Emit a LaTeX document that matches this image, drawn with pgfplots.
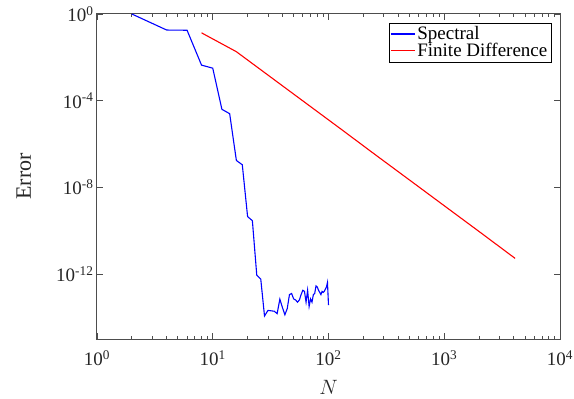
\documentclass[border=0pt]{standalone}
\usepackage{fontspec}
\setmainfont{Liberation Serif}
\usepackage{pgfplots}
\pgfplotsset{compat=1.18}
\definecolor{axgray}{RGB}{77,77,77}
\definecolor{txtgray}{RGB}{38,38,38}
\begin{document}
\begin{tikzpicture}
\useasboundingbox (-97pt,-60pt) rectangle (477pt,339pt);
\begin{axis}[
  scale only axis, width=463pt, height=325pt,
  xmode=log, ymode=log,
  xmin=1, xmax=10000, ymin=1e-15, ymax=1,
  xtick={1,10,100,1000,10000},
  xticklabels={10\textsuperscript{0},10\textsuperscript{1},10\textsuperscript{2},10\textsuperscript{3},10\textsuperscript{4}},
  ytick={1e-12,1e-8,1e-4,1},
  yticklabels={10\textsuperscript{-12},10\textsuperscript{-8},10\textsuperscript{-4},10\textsuperscript{0}},
  yminorticks=false,
  tick align=inside,
  major tick length=6pt, minor tick length=3.5pt,
  axis line style={axgray, line width=1pt},
  tick style={axgray, line width=0.9pt},
  tick label style={txtgray, font=\fontsize{19}{21}\selectfont},
  xticklabel style={yshift=-8pt},
  xlabel={$N$}, ylabel={Error},
  label style={txtgray, font=\fontsize{22}{24}\selectfont},
  xlabel style={at={(axis description cs:0.5,-0.150)}, anchor=center},
  ylabel style={at={(axis description cs:-0.158,0.5)}, anchor=center},
  legend style={at={(1,1)}, anchor=north east, xshift=-9pt, yshift=-9pt,
    font=\fontsize{19}{19}\selectfont, inner sep=1.5pt, row sep=-2pt, draw=black},
  legend cell align=left,
]
\addplot[blue, line width=1.1pt,
  legend image code/.code={\draw[blue, line width=1.1pt] (0pt,0pt) -- (24pt,0pt);}] coordinates {
(2,1) (4,0.182) (6,0.178) (8,4.37e-3) (10,3.16e-3) (12,3.98e-5) (14,2.51e-5)
(16,1.74e-7) (18,1.10e-7) (20,4.47e-10) (22,2.88e-10) (24,8.91e-13) (26,5.75e-13)
(28,1.15e-14) (30,2.09e-14) (32,2.00e-14) (34,1.91e-14) (36,1.48e-14) (38,6.92e-14)
(40,2.82e-14) (42,1.32e-14) (44,2.51e-14) (46,1.12e-13) (48,1.26e-13) (50,7.08e-14)
(52,6.31e-14) (54,5.01e-14) (56,6.31e-14) (58,1.12e-13) (60,1.78e-13) (62,1.58e-13)
(64,5.01e-14) (66,1.78e-13) (68,3.16e-14) (70,7.08e-14) (72,5.01e-14) (74,1.12e-13)
(76,1.26e-13) (78,2.82e-13) (80,2.51e-13) (82,1.78e-13) (84,1.41e-13) (86,1.12e-13)
(88,1.58e-13) (90,1.41e-13) (92,1.58e-13) (94,2.00e-13) (96,2.51e-13) (98,4.07e-13)
(100,3.63e-14)
};
\addlegendentry{Spectral}
\addplot[red, line width=1.1pt,
  legend image code/.code={\draw[red, line width=1.1pt] (0pt,0pt) -- (24pt,0pt);}] coordinates {
(8,0.1349) (16,0.01820) (32,1.175e-3) (64,7.59e-5) (128,4.90e-6) (256,3.09e-7)
(512,2.00e-8) (1024,1.288e-9) (2048,8.32e-11) (4096,5.25e-12)
};
\addlegendentry{Finite Difference}
\end{axis}
\end{tikzpicture}
\end{document}
